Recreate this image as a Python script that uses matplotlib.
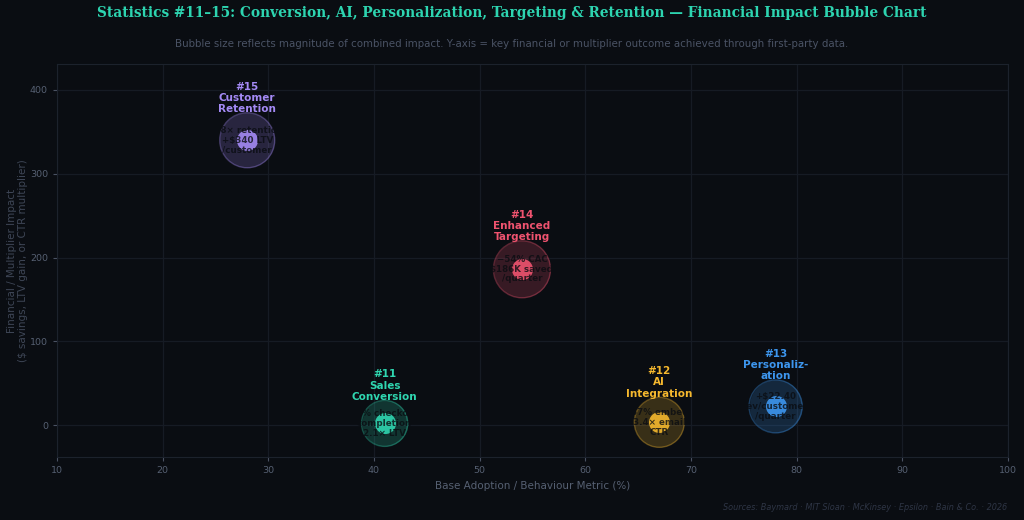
import matplotlib
matplotlib.use("Agg")
import matplotlib.pyplot as plt

# ---- data ----
ids = ["#11", "#12", "#13", "#14", "#15"]
names = ["Sales\nConversion", "AI\nIntegration", "Personaliz-\nation", "Enhanced\nTargeting", "Customer\nRetention"]
inner_text = ["41% checkout\ncompletion\n2.1× LTV",
              "67% embed\n3.4× email\nCTR",
              "+$22.40\nrev/customer\n/quarter",
              "−54% CAC\n$186K saved\n/quarter",
              "1.8× retention\n+$340 LTV\n/customer"]
x_vals = [41, 67, 78, 54, 28]
y_vals = [2.1, 3.4, 22.4, 186, 340]
magnitude = [46, 50, 53, 57, 55]   # relative bubble diameter
colors = ["#2fd6b0", "#f5b82e", "#3d96ee", "#ef536f", "#a48af5"]

BG = "#0a0d12"
fig = plt.figure(figsize=(10.24, 5.2), dpi=100, facecolor=BG)
ax = fig.add_axes([57/1024, 1-457/520, (1008-57)/1024, (457-64)/520], facecolor=BG)

ax.set_xlim(10, 100)
ax.set_ylim(-38, 431)
ax.set_xticks(range(10, 101, 10))
ax.set_yticks([0, 100, 200, 300, 400])
ax.grid(True, color="#161b24", linewidth=0.9)
ax.set_axisbelow(True)
for s in ax.spines.values():
    s.set_color("#1c222c")
ax.tick_params(colors="#4a5262", labelsize=6.8, length=3, labelcolor="#566072")

for i in range(len(ids)):
    d_px = magnitude[i]
    d_pt = d_px * 0.72
    c = colors[i]
    ax.scatter(x_vals[i], y_vals[i], s=d_pt**2, color=c, alpha=0.2, zorder=3, linewidths=0)
    ax.scatter(x_vals[i], y_vals[i], s=d_pt**2, facecolor="none", edgecolor=c, alpha=0.35,
               linewidths=1.0, zorder=3)
    inner = 21 * 0.72
    ax.scatter(x_vals[i], y_vals[i], s=inner**2, color=c, alpha=0.9, zorder=4, linewidths=0)
    ax.annotate(inner_text[i], (x_vals[i], y_vals[i]), ha="center", va="center",
                fontsize=6.3, fontweight="bold", color="#0a0d12", alpha=0.8, zorder=5,
                linespacing=1.1)
    ax.annotate(ids[i] + "\n" + names[i], (x_vals[i], y_vals[i]),
                xytext=(0, d_pt/2 - 1), textcoords="offset points",
                ha="center", va="bottom", fontsize=7.5, fontweight="bold", color=c,
                linespacing=1.15, zorder=5)

ax.set_xlabel("Base Adoption / Behaviour Metric (%)", color="#566072", fontsize=7.5, labelpad=4)
ax.set_ylabel("Financial / Multiplier Impact\n($ savings, LTV gain, or CTR multiplier)",
              color="#3e4656", fontsize=7.5)
ax.yaxis.set_label_coords(-0.03, 0.5)

fig.text(0.5, 1-13/520, "Statistics #11–15: Conversion, AI, Personalization, Targeting & Retention — Financial Impact Bubble Chart",
         ha="center", va="center", fontsize=11, fontweight="bold", color="#2dd4b0",
         family="DejaVu Serif", fontstretch="condensed")
fig.text(0.5, 1-44/520, "Bubble size reflects magnitude of combined impact. Y-axis = key financial or multiplier outcome achieved through first-party data.",
         ha="center", va="center", fontsize=7.35, color="#4a5365")
fig.text(1007/1024, 1-508/520, "Sources: Baymard · MIT Sloan · McKinsey · Epsilon · Bain & Co. · 2026",
         ha="right", va="center", fontsize=5.9, style="italic", color="#2e3545")

fig.savefig("out.png", dpi=100, facecolor=BG)
